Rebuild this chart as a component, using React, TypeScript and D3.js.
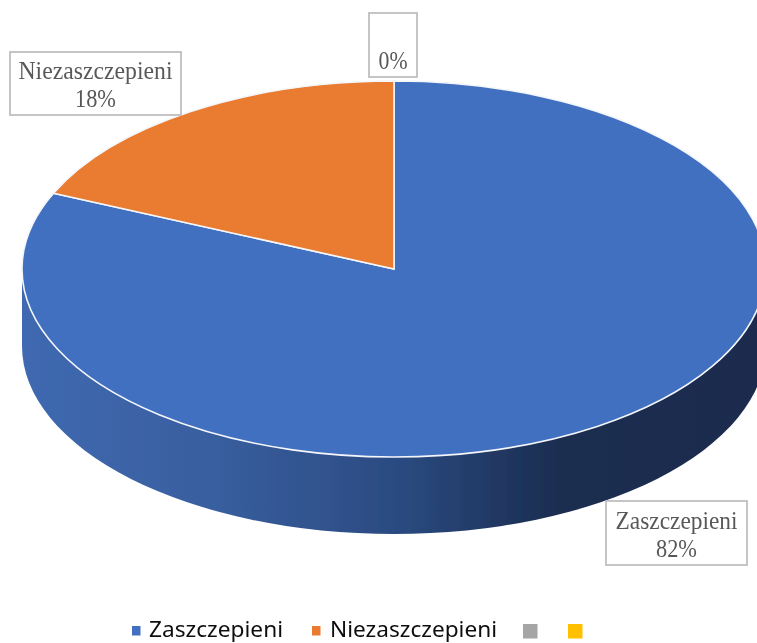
import React from "react";
import * as d3 from "d3";

const categories = ["Zaszczepieni", "Niezaszczepieni", "", ""];
const values = [81.6, 18.4, 0, 0];
const colors = ["#4270c0", "#ea7b31", "#a5a5a5", "#ffc000"];
const sideStops: [number, string][] = [
  [0, "#3f69b1"],
  [0.25, "#395f9f"],
  [0.5, "#2b4b82"],
  [0.72, "#1b2d50"],
  [1, "#1a2c4e"],
];

const W = 757, H = 643;
const cx = 394, cy = 269, rx = 372, ry = 188, depth = 77;

type Lab = { x0: number; y0: number; x1: number; y1: number; lines: string[]; base: number[]; tl: number[] };
const pct = (v: number) => `${Math.round(v)}%`;
const labels: Lab[] = [
  { x0: 606, y0: 501, x1: 747, y1: 565, lines: [categories[0], pct(values[0])], base: [529, 557], tl: [122, 41] },
  { x0: 10, y0: 52, x1: 181, y1: 115, lines: [categories[1], pct(values[1])], base: [79, 107], tl: [154, 41] },
  { x0: 369, y0: 13, x1: 417, y1: 77, lines: [pct(values[2])], base: [69], tl: [29] },
];

const legendItems = [
  { sx: 132, sy: 626, s: 8.5, tx: 149, tw: 134 },
  { sx: 312, sy: 626, s: 8.5, tx: 330, tw: 167 },
  { sx: 523, sy: 624, s: 14.5, tx: 0, tw: 0 },
  { sx: 568, sy: 624, s: 14.5, tx: 0, tw: 0 },
];

export default function App() {
  const pie = d3.pie<number>().sort(null).value((d) => d);
  const arcs = pie(values);
  const arc = d3.arc<d3.PieArcDatum<number>>().innerRadius(0).outerRadius(rx);
  const xGrad = d3.scaleLinear().domain([0, 1]).range([cx - rx, cx + rx]);

  const side =
    `M${cx - rx},${cy} A${rx},${ry} 0 0 0 ${cx + rx},${cy} ` +
    `L${cx + rx},${cy + depth} A${rx},${ry} 0 0 1 ${cx - rx},${cy + depth} Z`;

  return (
    <svg
      width={W}
      height={H}
      viewBox={`0 0 ${W} ${H}`}
      style={{ position: "absolute", left: 0, top: 0, background: "#fff" }}
    >
      <defs>
        <linearGradient id="side" gradientUnits="userSpaceOnUse" x1={xGrad(0)} x2={xGrad(1)} y1={0} y2={0}>
          {sideStops.map(([o, c]) => (
            <stop key={o} offset={o} stopColor={c} />
          ))}
        </linearGradient>
        <filter id="soft" x="-5%" y="-5%" width="110%" height="110%">
          <feGaussianBlur stdDeviation="0.5" />
        </filter>
      </defs>
      <g filter="url(#soft)">
        <path d={side} fill="url(#side)" />
        <g transform={`translate(${cx},${cy}) scale(1,${ry / rx})`}>
          {arcs.map((a, i) =>
            a.value > 0 ? (
              <path
                key={i}
                d={arc(a) as string}
                fill={colors[i]}
                stroke="#f4f6fa"
                strokeWidth={1.6}
                vectorEffect="non-scaling-stroke"
              />
            ) : null
          )}
        </g>
        {labels.map((l, i) => (
          <g key={i}>
            <rect
              x={l.x0}
              y={l.y0}
              width={l.x1 - l.x0}
              height={l.y1 - l.y0}
              fill={i === 2 ? "none" : "#fff"}
              stroke="#bfbfbf"
              strokeWidth={1.8}
            />
            {l.lines.map((t, j) => (
              <text
                key={j}
                x={(l.x0 + l.x1) / 2}
                y={l.base[j]}
                textAnchor="middle"
                fontFamily="'Liberation Serif', serif"
                fontSize={25}
                fill="#595959"
                textLength={l.tl[j]}
                lengthAdjust="spacingAndGlyphs"
              >
                {t}
              </text>
            ))}
          </g>
        ))}
        {legendItems.map((it, i) => (
          <g key={i}>
            <rect x={it.sx} y={it.sy} width={it.s} height={it.s + (it.s < 10 ? 1 : 0)} fill={colors[i]} />
            {categories[i] ? (
              <text
                x={it.tx}
                y={637}
                fontFamily="'Noto Sans', 'Open Sans', sans-serif"
                fontSize={21}
                fill="#111"
                textLength={it.tw}
                lengthAdjust="spacingAndGlyphs"
              >
                {categories[i]}
              </text>
            ) : null}
          </g>
        ))}
      </g>
    </svg>
  );
}
